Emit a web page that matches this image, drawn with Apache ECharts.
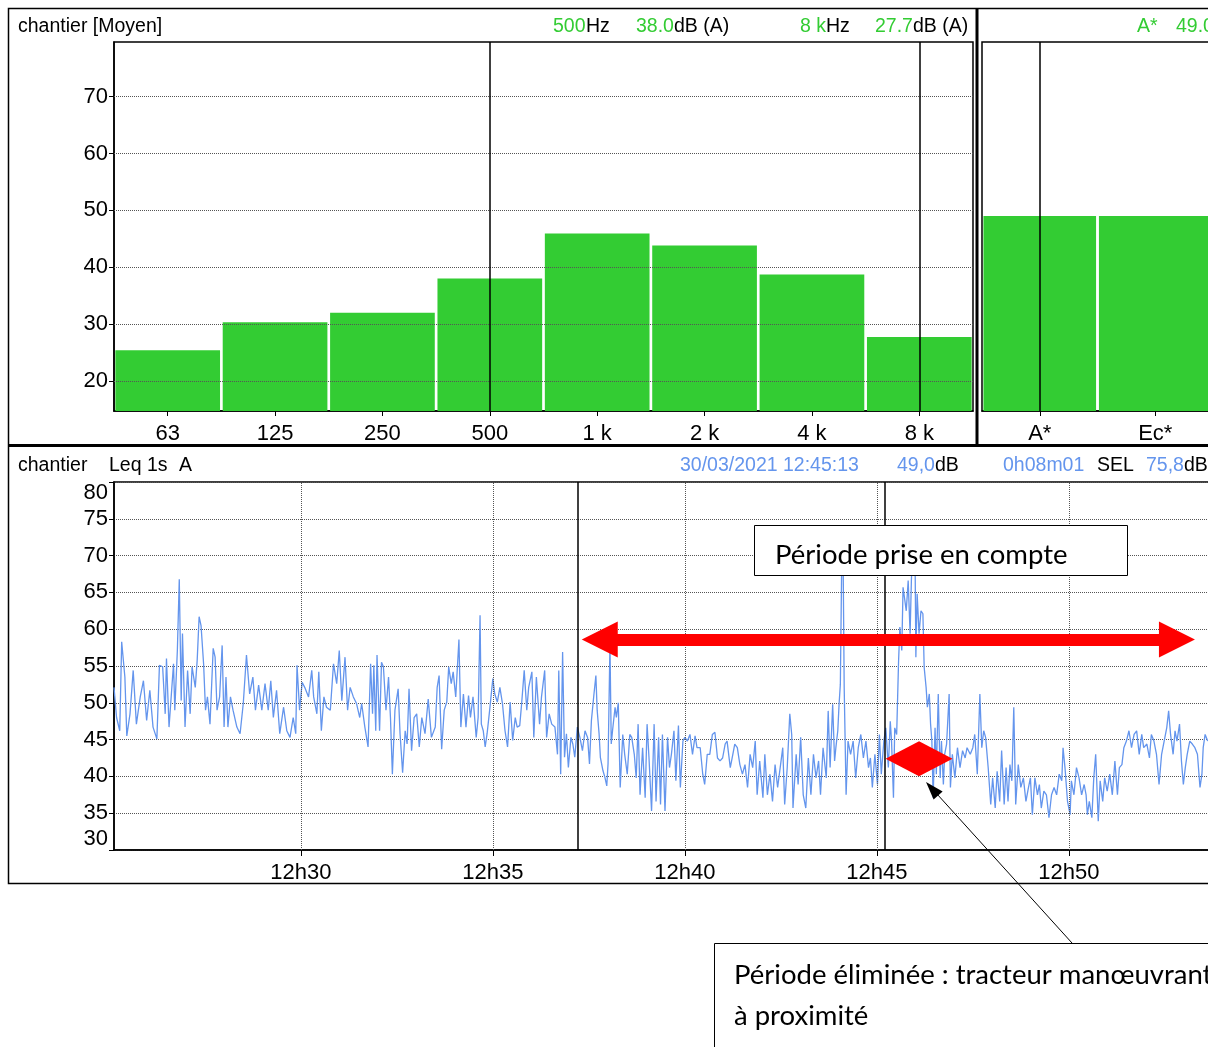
<!DOCTYPE html>
<html><head><meta charset="utf-8">
<script src="https://cdn.jsdelivr.net/npm/echarts@6/dist/echarts.min.js"></script>
<style>html,body{margin:0;padding:0;background:#fff}#c{width:1208px;height:1047px}</style>
</head><body><div id="c"></div>
<script>
// ---- data ----
const freqLabels = ['63','125','250','500','1 k','2 k','4 k','8 k'];
const freqLevels = [25.4,30.3,32.0,38.0,45.9,43.8,38.7,27.7];
const globalLabels = ['A*','Ec*'];
const globalLevels = [49.0,49.0];
const spectrumTicks = [20,30,40,50,60,70];
const spectrumCursors = ['500','8 k'];
const globalCursors = ['A*'];
const timeTicks = [1800,2100,2400,2700,3000];      // seconds after 12:00:00
const cursorTimes = [2233,2713];                     // 12:37:13 and 12:45:13
const keptPeriod = [2267,3169];                      // red double arrow (centres of heads)
const keptPeriodLevel = 58.6;
const removedPeriod = [2766,42.4];                   // red diamond
const leqTimes = [
1508,1512,1517,1520,1525,1528,1533,1538,1543,1549,
1554,1559,1564,1569,1575,1579,1584,1588,1590,1594,
1601,1603,1607,1610,1613,1615,1619,1623,1627,1630,
1635,1638,1641,1644,1648,1651,1654,1658,1663,1666,
1669,1673,1677,1680,1683,1686,1690,1694,1700,1705,
1710,1715,1720,1725,1729,1734,1739,1744,1749,1753,
1757,1762,1767,1773,1778,1783,1788,1792,1794,1798,
1802,1806,1812,1817,1820,1825,1828,1832,1836,1840,
1846,1851,1856,1860,1864,1869,1873,1877,1882,1887,
1892,
1895,1900,1905,1909,1912,1914,1917,1919,1923,1926,
1929,1933,1937,1940,1943,1947,1952,1955,1959,1963,
1966,1969,1973,1977,1981,1985,1989,1994,1999,2004,
2010,2013,2016,2020,2024,2028,2031,2035,2038,2042,
2047,2050,2054,2058,2062,2065,2069,2074,2077,2080,
2082,2085,2088,2091,2095,2100,2103,2107,2111,2115,
2119,2123,2127,2131,2135,2138,2142,2145,2149,2153,
2156,2161,2164,2168,2173,2176,2181,2184,2188,2192,
2197,2201,2203,2206,2209,2212,2215,2218,2222,2225,
2228,2232,2236,2240,2244,2248,2251,2254,2258,2261,
2263,2266,2268,2272,2275,2278,2280,2283,
2285,2287,2291,2293,2296,2299,2303,2306,2310,2314,
2317,2321,2324,2327,2330,2334,2338,2341,2344,2348,
2352,2355,2359,2362,2365,2369,2373,2376,2379,2383,
2386,2390,2393,2397,2400,2404,2408,2412,2416,2419,
2424,2428,2431,2435,2439,2443,2447,2451,2455,2459,
2463,2466,2471,2475,2478,2482,2486,2490,2494,2498,
2502,2506,2510,2513,2517,2522,2525,2529,2533,2537,
2541,2545,2549,2553,2556,2560,2564,2567,2569,2574,
2577,2581,2585,2589,2593,2597,2601,2605,2609,2612,
2616,2621,2624,2627,2631,2634,2636,2639,2641,2643,
2645,2647,2649,2652,2655,2659,2663,2667,2671,2675,
2679,2683,2687,2690,2693,2697,2701,2704,2707,2711,
2714,2718,2721,2723,2726,2728,2731,2734,2736,2739,
2741,2746,2749,
2752,2754,2757,2760,2761,2763,2766,2769,2772,2774,
2777,2779,2782,2784,2786,2788,2791,2793,2796,2799,
2801,2804,2806,2809,2813,2815,2818,2822,2826,2830,
2834,2838,2841,2846,2850,2853,2857,2861,2864,2867,
2870,2874,2878,2881,2885,2888,2892,2895,2899,2902,
2905,2908,2911,2914,2917,2921,2925,2929,2933,2937,
2940,2943,2947,2951,2954,2957,2961,2965,2969,2973,
2977,2981,2985,2989,2991,2994,2998,3002,3004,3008,
3012,3016,3020,3024,3027,3029,3032,3036,3039,3042,
3046,3049,3053,3056,3060,3064,3068,3072,3076,3079,
3083,3086,3090,3094,3098,3102,3106,3110,3114,3117,
3122,3126,3129,3133,3137,3141,3145,3149,3153,3156,
3159,3163,3166,3169,3173,3176,3179,3182,3185,3189,
3193,3197,3201,3205,3208,3210,3213,3215,3217
];
const leqLevels = [
52.1,48.0,46.2,58.3,53.5,45.5,48.5,54.4,47.1,50.8,
53.0,47.6,51.7,46.7,45.1,55.1,54.9,48.5,56.0,46.7,
55.3,49.0,57.1,66.8,50.3,59.4,46.7,54.4,48.5,54.9,
52.1,55.8,61.7,60.5,55.3,49.0,50.8,47.1,57.4,56.2,
49.0,50.8,57.8,46.7,53.5,46.7,50.8,49.0,46.7,45.8,
49.9,56.5,51.2,53.5,49.0,52.4,49.0,52.6,49.0,53.0,
48.0,51.7,45.8,49.4,46.2,45.3,48.0,45.8,55.1,49.0,
52.8,52.1,50.8,54.4,50.8,48.5,54.2,46.2,50.8,49.4,
49.0,55.3,52.6,57.1,50.3,56.2,49.0,52.1,50.8,49.9,
48.0,
49.9,46.7,44.0,55.3,48.5,55.1,46.2,56.5,46.2,55.5,
54.9,49.0,53.5,48.0,40.3,49.0,51.9,45.8,40.5,46.2,
44.4,51.9,43.5,48.0,48.5,44.0,48.0,45.8,50.5,45.3,
46.7,52.1,53.7,43.7,49.0,50.1,54.9,52.6,54.2,50.8,
58.6,46.7,51.2,46.7,51.0,48.0,50.8,45.3,48.0,61.9,
47.1,46.2,44.0,45.8,49.0,53.3,51.2,50.1,52.1,49.9,
46.2,44.0,50.1,44.9,48.0,46.7,46.9,49.9,54.4,49.0,
52.1,54.2,45.3,53.5,47.1,50.8,54.4,45.3,48.5,47.1,
46.7,43.0,54.4,40.3,56.9,42.6,45.8,41.2,45.3,44.4,
42.6,46.7,45.3,43.5,46.2,45.3,41.7,47.6,51.2,53.7,
49.0,45.8,42.6,40.8,39.9,38.7,41.7,58.0,
44.4,46.2,49.4,48.0,50.0,38.5,45.7,43.0,40.3,45.7,
45.3,43.0,39.8,47.1,37.5,43.9,37.1,47.1,42.5,35.3,
47.1,36.6,45.3,36.2,45.7,35.3,45.3,41.2,43.0,46.2,
39.4,46.9,38.5,44.8,45.3,44.8,45.7,43.0,45.5,43.9,
43.9,40.3,38.9,43.0,43.0,45.7,46.0,42.5,42.1,42.5,
44.4,44.8,41.2,43.0,44.4,43.9,41.6,40.3,41.6,38.5,
43.0,41.2,44.8,37.5,42.1,37.1,43.0,37.5,40.3,36.6,
41.6,38.5,41.2,43.9,36.2,41.2,48.5,45.7,35.7,43.0,
38.9,45.3,37.5,35.7,42.5,37.5,43.0,39.8,42.1,37.5,
43.9,39.8,48.9,41.2,49.8,42.1,43.9,46.2,49.8,52.5,
68.0,73.0,52.1,37.5,44.8,43.0,44.8,39.8,43.9,45.7,
42.5,44.8,41.2,42.5,38.5,43.0,38.9,45.7,40.3,44.8,
46.6,41.2,47.5,44.8,37.1,46.6,45.7,55.7,60.3,57.1,
65.7,62.5,66.6,
59.4,66.6,74.0,67.1,56.2,64.8,59.4,62.5,62.1,54.8,
52.1,49.4,51.2,47.1,44.8,37.1,46.6,40.3,51.2,39.8,
44.8,38.9,43.0,44.4,51.2,38.5,43.0,39.8,43.9,41.2,
43.5,42.5,43.9,43.0,43.9,45.7,40.3,51.2,43.9,46.2,
45.3,41.2,36.2,39.8,35.7,40.7,36.6,43.5,36.2,41.2,
36.6,41.6,39.4,49.4,36.2,41.6,38.5,39.8,36.6,38.5,
39.8,34.8,39.8,37.5,38.9,35.7,38.0,37.5,34.4,37.5,
38.5,37.5,40.3,39.4,43.9,41.2,36.6,34.8,39.4,37.5,
41.2,39.8,37.5,38.9,37.5,34.8,36.6,34.4,39.8,43.0,
33.9,39.4,36.6,39.8,38.0,40.3,37.5,42.1,37.5,41.2,
41.6,43.9,44.8,46.2,43.9,45.7,46.2,43.0,45.7,43.9,
44.4,42.5,45.7,44.8,43.0,38.9,43.0,44.8,46.6,48.9,
45.7,43.0,46.2,44.8,47.1,42.1,38.9,41.2,43.0,44.8,
44.4,43.9,43.0,38.5,40.3,43.9,45.7,45.7,44.8
];

// ---- styling ----
const F = '"Liberation Sans", Arial, sans-serif';
const FA = 'Lato, "Open Sans", sans-serif';
const GREEN = '#33CC33', BLUE = '#6495ED';
const n = Math.min(leqTimes.length, leqLevels.length);
const leqData = [];
for (let i = 0; i < n; i++) leqData.push([leqTimes[i], leqLevels[i]]);
const fmtTime = v => { const m = Math.round(v / 60); return '12h' + String(m % 60).padStart(2, '0'); };

const dotted = {type: 'dotted', color: '#555', width: 1};
const cursorStyle = {type: 'solid', color: '#000', width: 1.5};
const axisBlack = {show: true, lineStyle: {color: '#000', width: 1.5}};

const chart = echarts.init(document.getElementById('c'), null, {renderer: 'canvas'});
const HS = 19.5;
const txt = (x, y, s, color, size, font, extra) => Object.assign({
  type: 'text', x: x, y: y, z: 120,
  style: {text: s, fill: color, font: size + 'px ' + (font || F), textAlign: 'left', textVerticalAlign: 'middle'}
}, extra || {});

chart.setOption({
  animation: false,
  backgroundColor: '#fff',
  grid: [
    {left: 114, top: 42, width: 859, height: 369, show: true, borderColor: '#000', borderWidth: 1.5, backgroundColor: 'transparent', outerBoundsMode: 'none', containLabel: false},
    {left: 982, top: 42, width: 231, height: 369, show: true, borderColor: '#000', borderWidth: 1.5, backgroundColor: 'transparent', outerBoundsMode: 'none', containLabel: false},
    {left: 114, top: 482, width: 1102, height: 368, show: true, borderColor: '#000', borderWidth: 1.5, backgroundColor: 'transparent', outerBoundsMode: 'none', containLabel: false}
  ],
  xAxis: [
    {gridIndex: 0, type: 'category', data: freqLabels, axisLine: axisBlack,
     axisTick: {show: true, alignWithLabel: true, length: 5, lineStyle: {color: '#000'}},
     axisLabel: {fontSize: 22, fontFamily: F, color: '#000', margin: 12}, splitLine: {show: false}},
    {gridIndex: 1, type: 'category', data: globalLabels, axisLine: axisBlack,
     axisTick: {show: true, alignWithLabel: true, length: 5, lineStyle: {color: '#000'}},
     axisLabel: {fontSize: 22, fontFamily: F, color: '#000', margin: 12}, splitLine: {show: false}},
    {gridIndex: 2, type: 'value', min: 1508, max: 3230, axisLine: axisBlack,
     axisTick: {show: true, customValues: timeTicks, length: 6, lineStyle: {color: '#000'}},
     axisLabel: {customValues: timeTicks, formatter: fmtTime, fontSize: 22, fontFamily: F, color: '#000', margin: 12},
     splitLine: {show: false}}
  ],
  yAxis: [
    {gridIndex: 0, type: 'value', min: 14.7, max: 79.6, axisLine: axisBlack,
     axisTick: {show: true, customValues: spectrumTicks, length: 5, lineStyle: {color: '#000'}},
     axisLabel: {customValues: spectrumTicks, fontSize: 22, fontFamily: F, color: '#000', margin: 6},
     splitLine: {show: false}},
    {gridIndex: 1, type: 'value', min: 14.7, max: 79.6, axisLine: {show: false},
     axisTick: {show: false}, axisLabel: {show: false}, splitLine: {show: false}},
    {gridIndex: 2, type: 'value', min: 30, max: 80, interval: 5, axisLine: axisBlack,
     axisTick: {show: true, length: 5, lineStyle: {color: '#000'}},
     axisLabel: {fontSize: 22, fontFamily: F, color: '#000', margin: 6,
                 verticalAlignMaxLabel: 'top', verticalAlignMinLabel: 'bottom'},
     splitLine: {show: true, lineStyle: dotted}}
  ],
  series: [
    // spectrum gridlines
    {type: 'line', xAxisIndex: 0, yAxisIndex: 0, data: [], z: 1, silent: true,
     markLine: {silent: true, symbol: 'none', label: {show: false}, lineStyle: dotted,
                data: spectrumTicks.map(v => ({yAxis: v}))}},
    {type: 'bar', xAxisIndex: 0, yAxisIndex: 0, data: freqLevels, barCategoryGap: '2.5%',
     itemStyle: {color: GREEN}, z: 2, silent: true},
    {type: 'line', xAxisIndex: 0, yAxisIndex: 0, data: [], z: 5, silent: true,
     markLine: {silent: true, symbol: 'none', label: {show: false}, lineStyle: cursorStyle,
                data: spectrumCursors.map(c => ({xAxis: freqLabels.indexOf(c)}))}},
    // global values
    {type: 'bar', xAxisIndex: 1, yAxisIndex: 1, data: globalLevels, barCategoryGap: '2.5%',
     itemStyle: {color: GREEN}, z: 2, silent: true},
    {type: 'line', xAxisIndex: 1, yAxisIndex: 1, data: [], z: 5, silent: true,
     markLine: {silent: true, symbol: 'none', label: {show: false}, lineStyle: cursorStyle,
                data: globalCursors.map(c => ({xAxis: globalLabels.indexOf(c)}))}},
    // time history
    {type: 'line', xAxisIndex: 2, yAxisIndex: 2, data: [], z: 1, silent: true,
     markLine: {silent: true, symbol: 'none', label: {show: false}, lineStyle: dotted,
                data: timeTicks.map(v => ({xAxis: v}))}},
    {type: 'line', xAxisIndex: 2, yAxisIndex: 2, data: leqData, showSymbol: false, symbol: 'none',
     lineStyle: {color: BLUE, width: 1.3}, z: 3, silent: true},
    {type: 'line', xAxisIndex: 2, yAxisIndex: 2, data: [], z: 4, silent: true,
     markLine: {silent: true, symbol: 'none', label: {show: false}, lineStyle: cursorStyle,
                data: cursorTimes.map(v => ({xAxis: v}))}},
    {type: 'line', xAxisIndex: 2, yAxisIndex: 2, data: [], z: 6, silent: true,
     markLine: {silent: true, symbol: ['triangle', 'triangle'], symbolSize: 36,
                label: {show: false}, lineStyle: {type: 'solid', color: '#FF0000', width: 12, opacity: 1},
                itemStyle: {color: '#FF0000'},
                data: [[{coord: [keptPeriod[0], keptPeriodLevel]}, {coord: [keptPeriod[1], keptPeriodLevel]}]]},
     markPoint: {silent: true, symbol: 'diamond', symbolSize: [67, 35], itemStyle: {color: '#FF0000'},
                 label: {show: false}, data: [{coord: removedPeriod}]}}
  ],
  graphic: [
    {type: 'rect', z: 110, shape: {x: 8.5, y: 8.5, width: 1215, height: 875}, style: {fill: 'none', stroke: '#000', lineWidth: 1.5}},
    {type: 'rect', z: 110, shape: {x: 8, y: 444, width: 1215, height: 3}, style: {fill: '#000'}},
    {type: 'rect', z: 110, shape: {x: 975.5, y: 8, width: 3, height: 437}, style: {fill: '#000'}},
    txt(18, 27, 'chantier [Moyen]', '#000', HS),
    txt(553, 27, '500', GREEN, HS), txt(586, 27, 'Hz', '#000', HS),
    txt(636, 27, '38.0', GREEN, HS), txt(674, 27, 'dB (A)', '#000', HS),
    txt(800, 27, '8 k', GREEN, HS), txt(826, 27, 'Hz', '#000', HS),
    txt(875, 27, '27.7', GREEN, HS), txt(913, 27, 'dB (A)', '#000', HS),
    txt(1137, 27, 'A*', GREEN, HS), txt(1176, 27, '49.0', GREEN, HS), txt(1214, 27, 'dB (A)', '#000', HS),
    txt(18, 466, 'chantier', '#000', HS), txt(109, 466, 'Leq 1s', '#000', HS), txt(179, 466, 'A', '#000', HS),
    txt(680, 466, '30/03/2021 12:45:13', BLUE, HS),
    txt(897, 466, '49,0', BLUE, HS), txt(935, 466, 'dB', '#000', HS),
    txt(1003, 466, '0h08m01', BLUE, HS), txt(1097, 466, 'SEL', '#000', HS),
    txt(1146, 466, '75,8', BLUE, HS), txt(1184, 466, 'dB', '#000', HS),
    // annotation: kept period
    {type: 'rect', z: 115, shape: {x: 754.5, y: 525.5, width: 373, height: 50}, style: {fill: '#fff', stroke: '#000', lineWidth: 1}},
    txt(775, 555, 'Période prise en compte', '#000', 27.5, FA, {z: 116}),
    // annotation: removed period
    {type: 'line', z: 115, shape: {x1: 1072, y1: 943, x2: 937, y2: 794}, style: {stroke: '#000', lineWidth: 1}},
    {type: 'polygon', z: 115, shape: {points: [[926, 782], [942.6, 791.4], [933.6, 799.4]]}, style: {fill: '#000'}},
    {type: 'rect', z: 115, shape: {x: 714.5, y: 943.5, width: 520, height: 120}, style: {fill: '#fff', stroke: '#000', lineWidth: 1}},
    txt(734, 975, 'Période éliminée : tracteur manœuvrant', '#000', 27.5, FA, {z: 116}),
    txt(734, 1016, 'à proximité', '#000', 27.5, FA, {z: 116})
  ]
});
</script></body></html>
